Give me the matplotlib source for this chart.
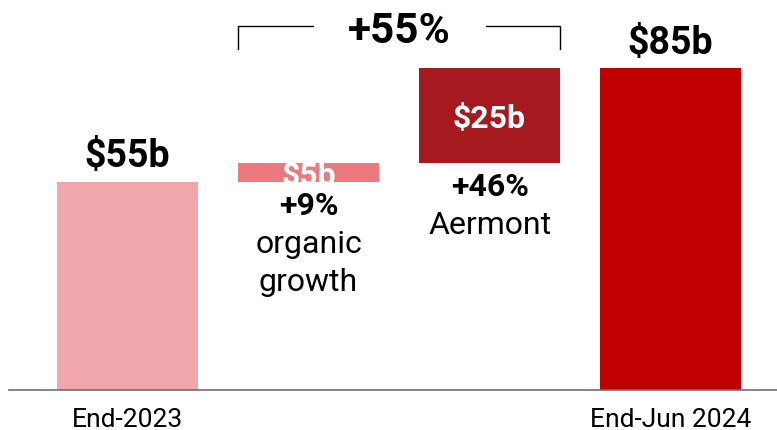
import numpy as np
import matplotlib.pyplot as plt

plt.rcParams['font.family'] = ['Roboto', 'DejaVu Sans']

# Data
categories = ["End-2023", "Organic growth", "Aermont", "End-Jun 2024"]
values = [55, 5, 25, 85]
value_labels = ["$55b", "$5b", "$25b", "$85b"]
pct_labels = ["", "+9%", "+46%", ""]
desc_labels = ["", "organic\ngrowth", "Aermont", ""]
tick_labels = ["End-2023", "", "", "End-Jun 2024"]
total_change = "+55%"

colors = ['#F0A6AA', '#EC797E', '#A5191F', '#C00000']
is_total = [True, False, False, True]

# waterfall bottoms
bottoms = []
running = 0
for v, tot in zip(values, is_total):
    if tot:
        bottoms.append(0)
        running = v
    else:
        bottoms.append(running)
        running += v

x = np.arange(len(categories))
width = 0.775

fig = plt.figure(figsize=(7.77, 4.31), dpi=100)
ax = fig.add_axes([9 / 777, 40 / 431, 1 - 9 / 777, 1 - 40 / 431])

ax.bar(x, values, width, bottom=bottoms, color=colors, zorder=2)

# labels above total bars, inside step bars
for i in range(len(x)):
    top = bottoms[i] + values[i]
    if is_total[i]:
        ax.annotate(value_labels[i], (x[i], top), xytext=(0, 11), textcoords='offset points',
                    ha='center', va='baseline', fontsize=27, fontweight='bold', color='black')
    else:
        # white value label, cap height centred in the bar
        ax.annotate(value_labels[i], (x[i], bottoms[i] + values[i] / 2), xytext=(0, -8.2),
                    textcoords='offset points', ha='center', va='baseline',
                    fontsize=23, fontweight='bold', color='white')
        ax.annotate(pct_labels[i], (x[i], bottoms[i]), xytext=(0, -23), textcoords='offset points',
                    ha='center', va='baseline', fontsize=23, fontweight='bold', color='black')
        for j, line in enumerate(desc_labels[i].split('\n')):
            ax.annotate(line, (x[i], bottoms[i]), xytext=(0, -50.5 - 27.4 * j),
                        textcoords='offset points', ha='center', va='baseline',
                        fontsize=23, color='black')

# bracket over the two steps
bl = x[1] - width / 2
br = x[2] + width / 2
mid = (x[1] + x[2]) / 2
gap = 0.478
by = values[-1] + 11
by_low = values[-1] + 5
ax.plot([bl, bl, mid - gap], [by_low, by, by], color='black', lw=1)
ax.plot([mid + gap, br, br], [by, by, by_low], color='black', lw=1)
ax.annotate(total_change, (mid, by), xytext=(0, -11.5), textcoords='offset points',
            ha='center', va='baseline', fontsize=30.5, fontweight='bold', color='black')

ax.set_xlim(-0.655, 3.588)
ax.set_ylim(0, 103.2)
ax.set_xticks(x)
ax.set_xticklabels(tick_labels, fontsize=19)
ax.tick_params(axis='x', length=0, pad=12)
ax.set_yticks([])
for s in ['top', 'right', 'left']:
    ax.spines[s].set_visible(False)
ax.spines['bottom'].set_color('#707070')
ax.spines['bottom'].set_linewidth(1.2)
ax.spines['bottom'].set_zorder(3)

fig.savefig('out.png', dpi=100)
